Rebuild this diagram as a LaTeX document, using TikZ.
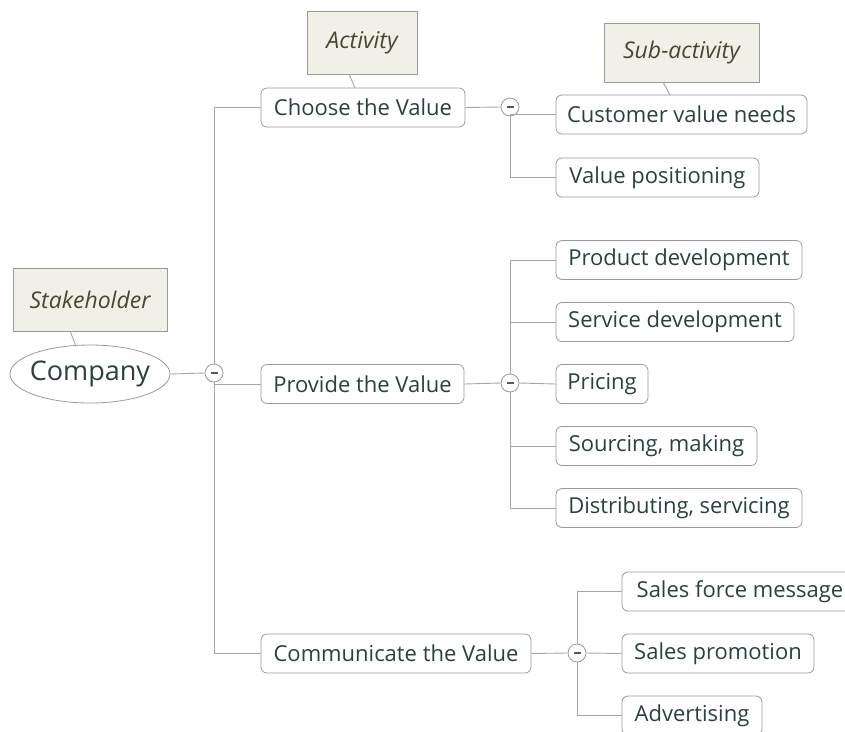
\documentclass[tikz,border=0pt]{standalone}
\usepackage{fontspec}
\setmainfont{Open Sans}
\usetikzlibrary{calc,shapes.geometric}
\definecolor{txt}{HTML}{2B423C}
\definecolor{lbltxt}{HTML}{4A4630}
\definecolor{lblfill}{HTML}{F1F0E6}
\definecolor{edge}{HTML}{9A9A9A}
\definecolor{conncol}{HTML}{A6A6A6}
\tikzset{
  topic/.style={draw=edge, rounded corners=6pt, fill=white, text=txt, minimum height=39pt,
    inner sep=0pt, font=\fontsize{22}{24}\selectfont, line width=0.8pt},
  lblbox/.style={draw=edge, fill=lblfill, text=lbltxt, inner sep=0pt,
    font=\fontsize{23}{26}\selectfont\itshape, line width=0.8pt},
  conn/.style={draw=conncol, line width=0.9pt},
  knob/.style={circle, draw=edge, fill=white, minimum size=18pt, inner sep=0pt, line width=0.8pt,
    path picture={\draw[line width=1.3pt, color=txt!85] ([xshift=-3.5pt]path picture bounding box.center) -- ([xshift=3.5pt]path picture bounding box.center);}},
}
\begin{document}
\begin{tikzpicture}[x=1pt,y=-1pt]
\useasboundingbox (0,0) rectangle (845,731);
% root
\node[ellipse, draw=edge, fill=white, text=txt, minimum width=160pt, minimum height=58pt,
  inner xsep=-5pt, inner ysep=-6pt,
  font=\fontsize{27}{30}\selectfont, line width=0.8pt] (company) at (90,374) {Company};
\node[lblbox, minimum width=154pt, minimum height=63pt] (stake) at (90,299.5) {Stakeholder};
\coordinate (stakeA) at (70,331);
\coordinate (stakeB) at (76,346);
\draw[conn] (stakeA) -- (stakeB);

% level 1
\node[knob] (k1) at (214,373) {};
\node[topic, minimum width=204pt] (choose) at (363,107.5) {Choose the Value};
\node[topic, minimum width=203pt] (provide) at (362.5,384) {Provide the Value};
\node[topic, minimum width=270pt] (comm) at (396,653.5) {Communicate the Value};
\node[lblbox, minimum width=110pt, minimum height=63pt] (act) at (362,42.5) {Activity};
\coordinate (actA) at (349,74);
\coordinate (actB) at (355,88);
\draw[conn] (actA) -- (actB);

\draw[conn] (company.east) -- (k1.west);
\draw[conn] (k1.north) |- (choose.west);
\draw[conn] (k1.south) |- (provide.west);
\draw[conn] (k1.south) |- (comm.west);

% choose branch
\node[knob] (k2) at (510,107) {};
\node[topic, minimum width=251pt] (cvn) at (681.5,114.5) {Customer value needs};
\node[topic, minimum width=203pt] (vp) at (657.5,177.5) {Value positioning};
\node[lblbox, minimum width=155pt, minimum height=59pt] (sub) at (681.5,52.5) {Sub-activity};
\coordinate (subA) at (663,82);
\coordinate (subB) at (670,95);
\draw[conn] (subA) -- (subB);
\draw[conn] (choose.east) -- (k2.west);
\draw[conn] (k2.south) |- (cvn.west);
\draw[conn] (k2.south) |- (vp.west);

% provide branch
\node[knob] (k3) at (510,383) {};
\node[topic, minimum width=246pt] (pd) at (679,260) {Product development};
\node[topic, minimum width=238pt] (sd) at (675,322) {Service development};
\node[topic, minimum width=92pt] (pr) at (602,384) {Pricing};
\node[topic, minimum width=201pt] (sm) at (656.5,446) {Sourcing, making};
\node[topic, minimum width=246pt] (ds) at (679,508) {Distributing, servicing};
\draw[conn] (provide.east) -- (k3.west);
\draw[conn] (k3.north) |- (pd.west);
\draw[conn] (k3.north) |- (sd.west);
\draw[conn] (k3.east) -- (pr.west);
\draw[conn] (k3.south) |- (sm.west);
\draw[conn] (k3.south) |- (ds.west);

% communicate branch
\node[knob] (k4) at (577,653) {};
\node[topic, minimum width=236pt] (sfm) at (740,591.5) {Sales force message};
\node[topic, minimum width=192pt] (sp) at (718,653.5) {Sales promotion};
\node[topic, minimum width=140pt] (adv) at (692,715.5) {Advertising};
\draw[conn] (comm.east) -- (k4.west);
\draw[conn] (k4.north) |- (sfm.west);
\draw[conn] (k4.east) -- (sp.west);
\draw[conn] (k4.south) |- (adv.west);
\end{tikzpicture}
\end{document}
